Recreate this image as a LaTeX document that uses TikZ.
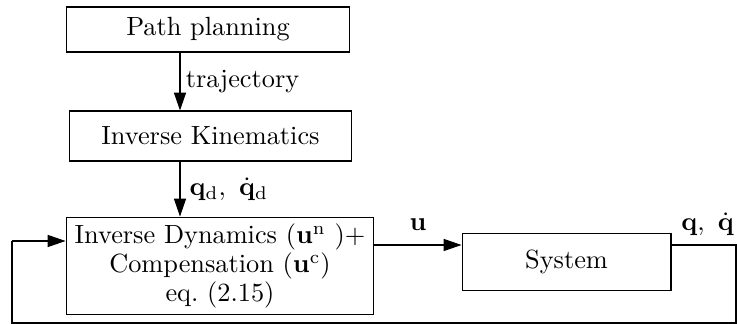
\documentclass[tikz,border=0pt]{standalone}
\usetikzlibrary{arrows.meta}
\begin{document}
\begin{tikzpicture}[x=0.38pt,y=-0.38pt,
  blk/.style={draw,line width=0.4pt,inner sep=0pt,align=center,font={\fontsize{10}{9}\selectfont}},
  conn/.style={line width=0.4pt,-{Triangle[length=6.8pt,width=4.6pt]}},
  plain/.style={line width=0.4pt}]
\useasboundingbox (0,0) rectangle (737,324);
\node[blk,minimum width=107.9pt,minimum height=17.1pt] (pp) at (208,29.5) {Path planning};
\node[blk,minimum width=107.5pt,minimum height=19pt] (ik) at (210.5,136) {Inverse Kinematics};
\node[blk,minimum width=117pt,minimum height=37.2pt] (id) at (220,266)
  {Inverse Dynamics $(\mathbf{u}^{\mathrm{n}}\ )+$\\Compensation $(\mathbf{u}^{\mathrm{c}})$\\eq.~(2.15)};
\node[blk,minimum width=79.4pt,minimum height=22pt] (sys) at (566.5,262) {System};
\coordinate (xa) at (180,0);
\coordinate (ya) at (0,245);
\coordinate (yf) at (0,241);
\coordinate (c1) at (736,245);
\coordinate (c2) at (736,323);
\coordinate (c3) at (12,323);
\coordinate (c4) at (12,241);
\draw[conn] (pp.south -| xa) -- node[right,inner sep=2pt] {trajectory} (ik.north -| xa);
\draw[conn] (ik.south -| xa) -- node[right,inner sep=3.5pt] {$\mathbf{q}_{\mathrm{d}},\ \dot{\mathbf{q}}_{\mathrm{d}}$} (id.north -| xa);
\draw[conn] (id.east |- ya) -- node[above=2pt] {$\mathbf{u}$} (sys.west |- ya);
\draw[plain] (sys.east |- ya) -- (c1) -- (c2) -- (c3) -- (c4);
\draw[conn] (c4) -- (id.west |- yf);
\node[anchor=south east,inner sep=1pt] (ql) at (737,239) {$\mathbf{q},\ \dot{\mathbf{q}}$};
\end{tikzpicture}
\end{document}
